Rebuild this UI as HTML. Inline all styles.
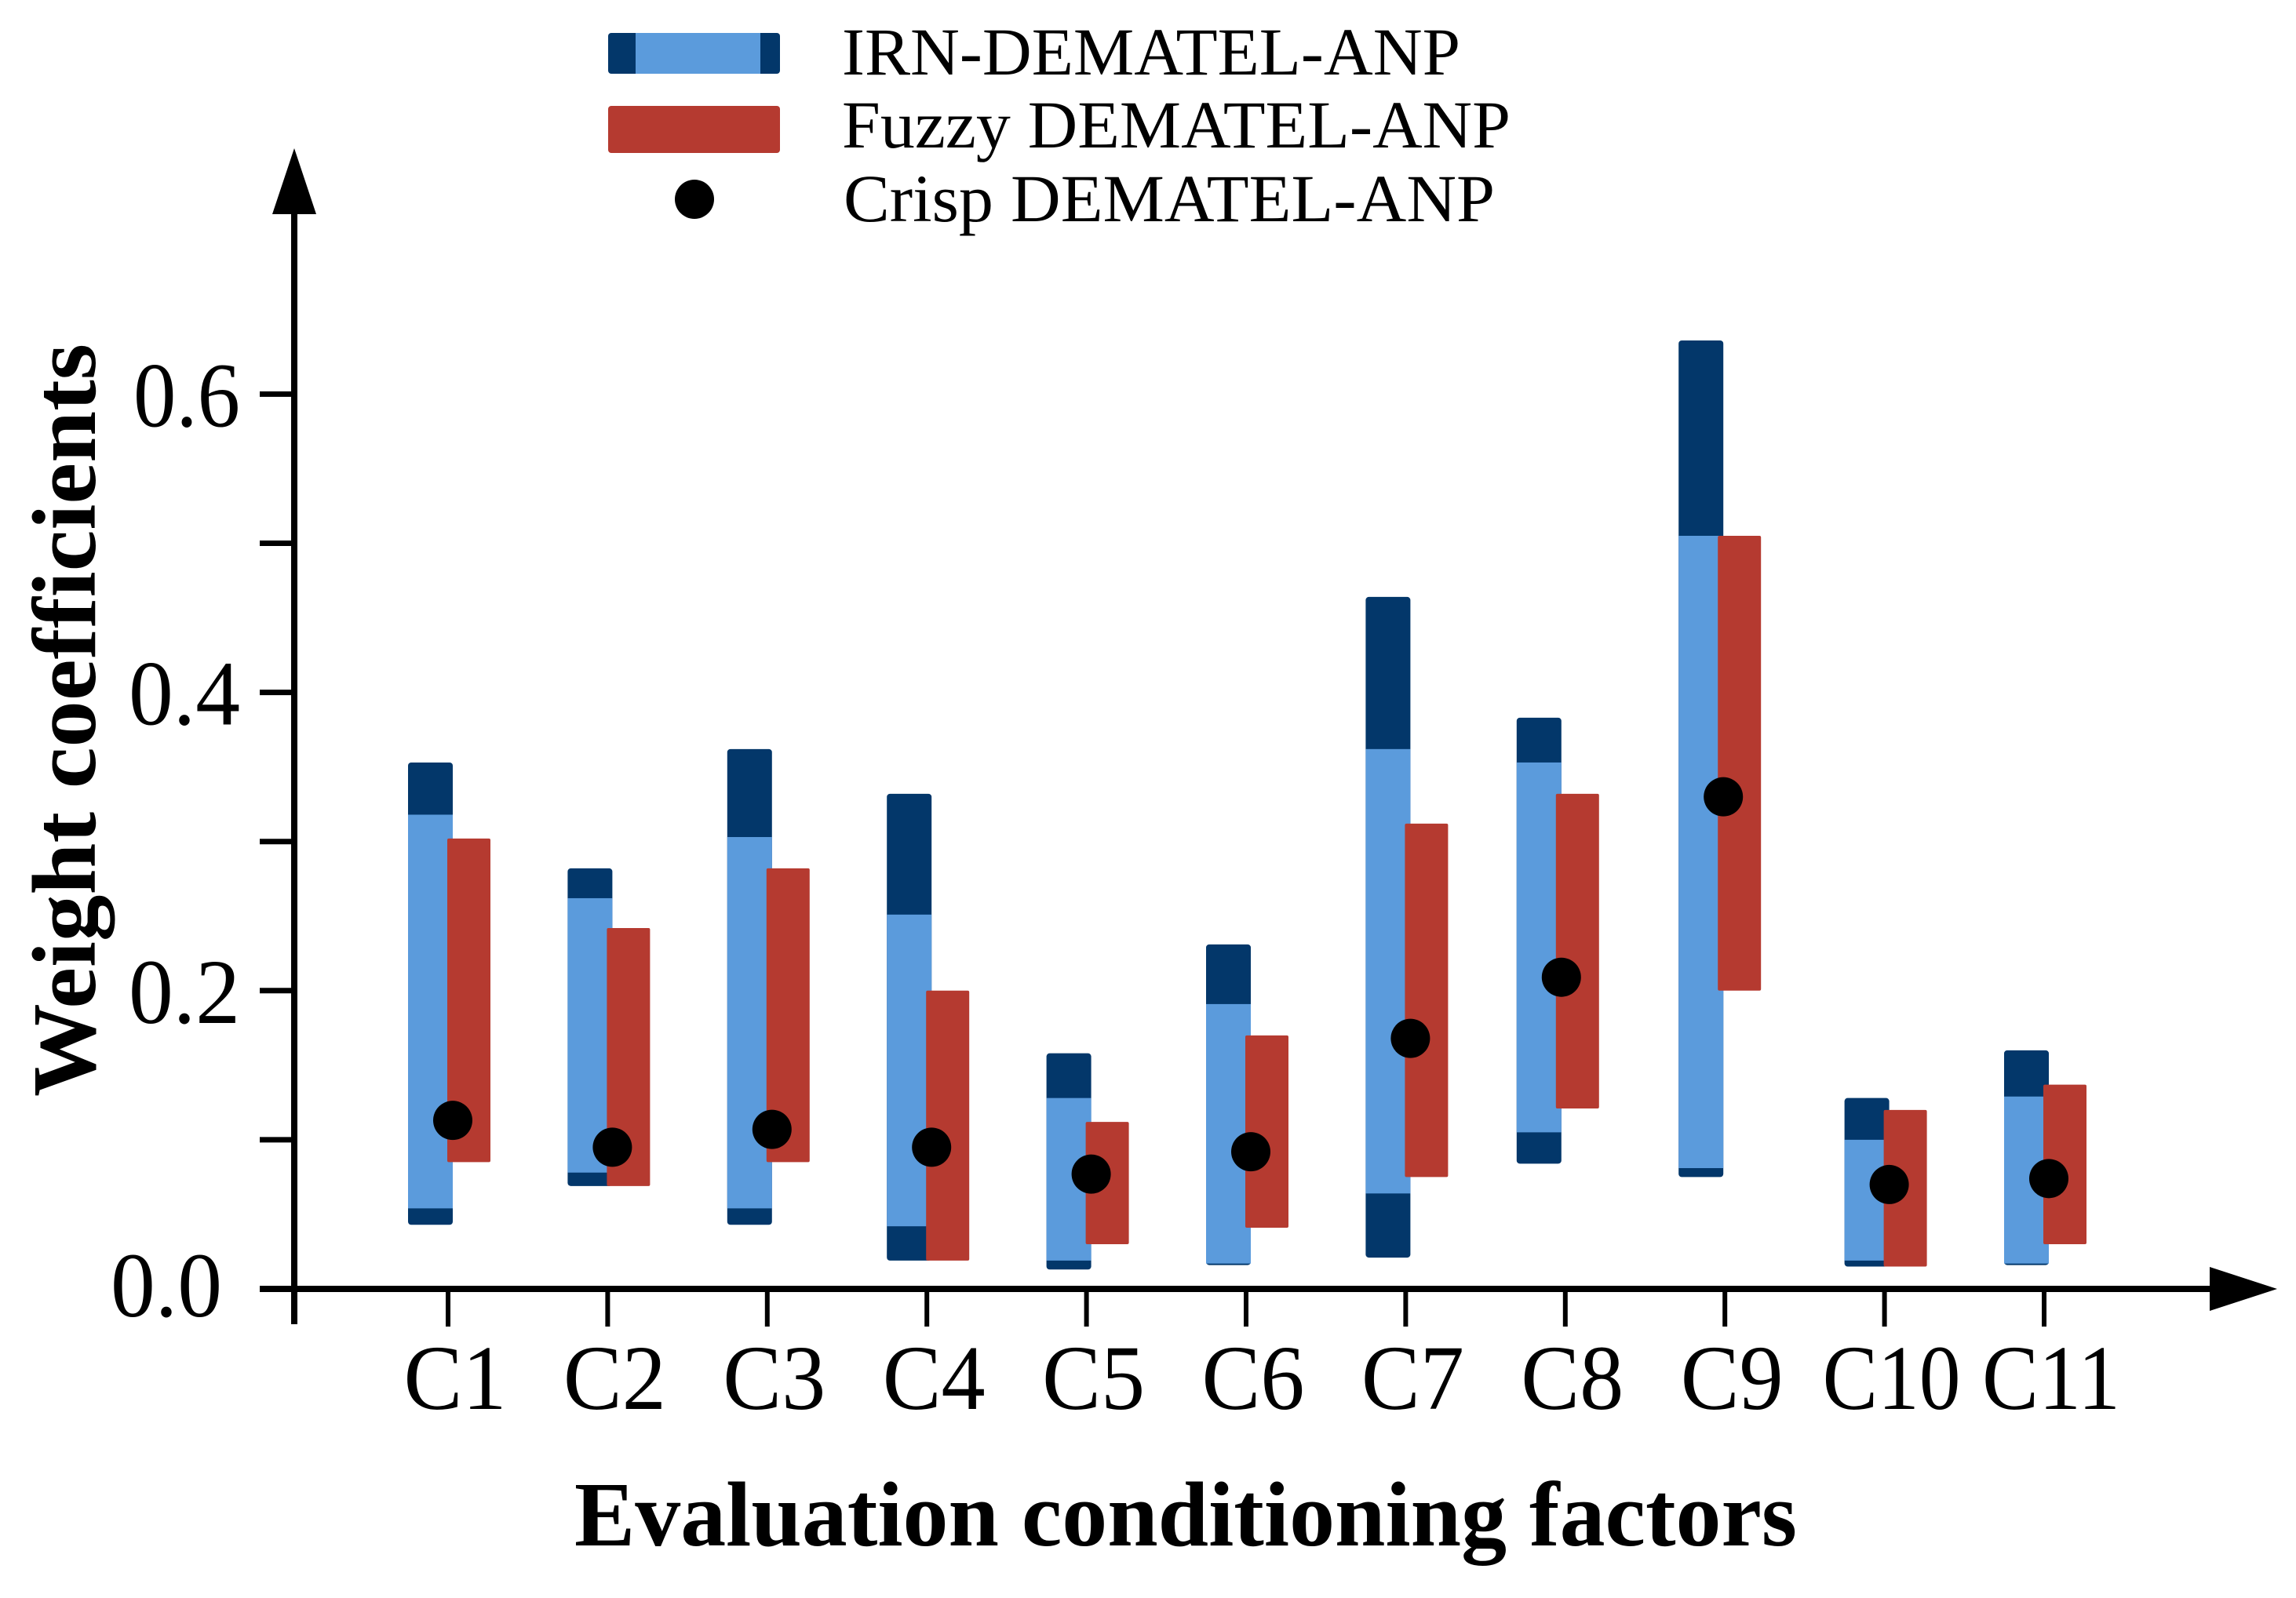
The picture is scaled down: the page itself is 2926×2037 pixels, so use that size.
<!DOCTYPE html>
<html lang="en">
<head>
<meta charset="utf-8">
<title>Weight coefficients by evaluation conditioning factor</title>
<style>
html,body{margin:0;padding:0;background:#fff;}
svg{display:block;}
text{font-family:"Liberation Serif","DejaVu Serif",serif;fill:#000;}
</style>
</head>
<body>
<svg id="chart" xmlns="http://www.w3.org/2000/svg" width="2926" height="2037" viewBox="0 0 2926 2037">
  <rect x="0" y="0" width="2926" height="2037" fill="#ffffff"/>

  <g>
    <g>
      <rect x="775" y="42" width="219" height="52" rx="4" fill="#03376a"/>
      <rect x="810" y="42" width="159" height="52" fill="#5b9bdc"/>
      <text x="1073" y="95" font-size="86" textLength="788" lengthAdjust="spacingAndGlyphs">IRN-DEMATEL-ANP</text>
    </g>
    <g>
      <rect x="775" y="135" width="219" height="60" rx="4" fill="#b53a30"/>
      <text x="1073" y="188" font-size="86" textLength="852" lengthAdjust="spacingAndGlyphs">Fuzzy DEMATEL-ANP</text>
    </g>
    <g>
      <circle cx="885" cy="254" r="25" fill="#000000"/>
      <text x="1075" y="282" font-size="86" textLength="830" lengthAdjust="spacingAndGlyphs">Crisp DEMATEL-ANP</text>
    </g>
  </g>

  <g id="marks"></g>
  <g id="axes"></g>

  <text transform="translate(121 1398) rotate(-90)" x="0" y="0" font-size="116" font-weight="bold" textLength="960" lengthAdjust="spacingAndGlyphs">Weight coefficients</text>
  <text x="732" y="1970" font-size="118" font-weight="bold" textLength="1558" lengthAdjust="spacingAndGlyphs">Evaluation conditioning factors</text>
</svg>

<script>
const categories = ["C1","C2","C3","C4","C5","C6","C7","C8","C9","C10","C11"];
const irnOuterUpper = [0.353,0.282,0.362,0.332,0.158,0.231,0.464,0.383,0.636,0.128,0.160];
const irnInnerUpper = [0.318,0.262,0.303,0.251,0.128,0.191,0.362,0.353,0.505,0.100,0.129];
const irnInnerLower = [0.054,0.078,0.054,0.042,0.019,0.017,0.064,0.105,0.081,0.019,0.017];
const irnOuterLower = [0.043,0.069,0.043,0.019,0.013,0.016,0.021,0.084,0.075,0.015,0.016];
const fuzzyUpper = [0.302,0.242,0.282,0.200,0.112,0.170,0.312,0.332,0.505,0.120,0.137];
const fuzzyLower = [0.085,0.069,0.085,0.019,0.030,0.041,0.075,0.121,0.200,0.015,0.030];
const crispValues = [0.113,0.095,0.107,0.095,0.077,0.092,0.168,0.209,0.330,0.070,0.074];
const yTickValues = [0.0,0.1,0.2,0.3,0.4,0.5,0.6];
const yTickLabels = ["0.0","","0.2","","0.4","","0.6"];

const SVGNS = "http://www.w3.org/2000/svg";
const COLORS = {dark:"#03376a", blue:"#5b9bdc", red:"#b53a30", ink:"#000000"};

function yScale(v){ return 1643 - v * 1901; }
function xScale(i){ return 1589 + 203.4 * (i - 5); }
/* The bar clusters of C8 and C9 sit a little left of their ticks in the source figure. */
function bandCenter(i){
  if (i === 7) return xScale(i) - 11;
  if (i === 8) return xScale(i) - 8;
  return xScale(i);
}

function make(tag, attrs, parent){
  const el = document.createElementNS(SVGNS, tag);
  for (const k in attrs) el.setAttribute(k, attrs[k]);
  parent.appendChild(el);
  return el;
}

const marks = document.getElementById("marks");
const axes = document.getElementById("axes");

categories.forEach(function(cat, i){
  const c = bandCenter(i);
  const name = cat.toLowerCase();

  const group = make("g", {}, marks);
  
  

  const outer = make("rect", {x:c-52, y:yScale(irnOuterUpper[i]), width:57, height:yScale(irnOuterLower[i])-yScale(irnOuterUpper[i]), rx:4, fill:COLORS.dark}, group);
  
  

  const inner = make("rect", {x:c-52, y:yScale(irnInnerUpper[i]), width:57, height:yScale(irnInnerLower[i])-yScale(irnInnerUpper[i]), fill:COLORS.blue}, group);
  
  

  const fuzzy = make("rect", {x:c-2, y:yScale(fuzzyUpper[i]), width:55, height:yScale(fuzzyLower[i])-yScale(fuzzyUpper[i]), rx:2, fill:COLORS.red}, group);
  
  

  const dot = make("circle", {cx:c+5, cy:yScale(crispValues[i]), r:25, fill:COLORS.ink}, group);
  
  
});

const yLine = make("line", {x1:375, y1:265, x2:375, y2:1688, stroke:COLORS.ink, "stroke-width":8}, axes);



const yArrow = make("polygon", {points:"375,189 347,273 403,273", fill:COLORS.ink}, axes);



const xLine = make("line", {x1:331, y1:yScale(0), x2:2825, y2:yScale(0), stroke:COLORS.ink, "stroke-width":8}, axes);



const xArrow = make("polygon", {points:"2902,"+yScale(0)+" 2816,"+(yScale(0)-28)+" 2816,"+(yScale(0)+28), fill:COLORS.ink}, axes);



yTickValues.forEach(function(v, i){
  if (v > 0) {
    const tick = make("line", {x1:331, y1:yScale(v), x2:375, y2:yScale(v), stroke:COLORS.ink, "stroke-width":7}, axes);
    
    
  }
  if (yTickLabels[i]) {
    const endX = v === 0 ? 283 : 306;
    const baseShift = v === 0 ? 35 : 41;
    const w = v === 0.6 ? 136 : 142;
    const label = make("text", {x:endX-w, y:yScale(v)+baseShift, "font-size":118, textLength:w, lengthAdjust:"spacingAndGlyphs"}, axes);
    label.textContent = yTickLabels[i];
    
    
  }
});

categories.forEach(function(cat, i){
  const x = xScale(i) - 1;
  const name = cat.toLowerCase();

  const tick = make("line", {x1:x, y1:yScale(0), x2:x, y2:1691, stroke:COLORS.ink, "stroke-width":6}, axes);
  
  

  const w = cat.length > 2 ? 176 : 131;
  const label = make("text", {x:x+9-w/2, y:1796, "font-size":118, textLength:w, lengthAdjust:"spacingAndGlyphs"}, axes);
  label.textContent = cat;
  
  
});
</script>
</body>
</html>
